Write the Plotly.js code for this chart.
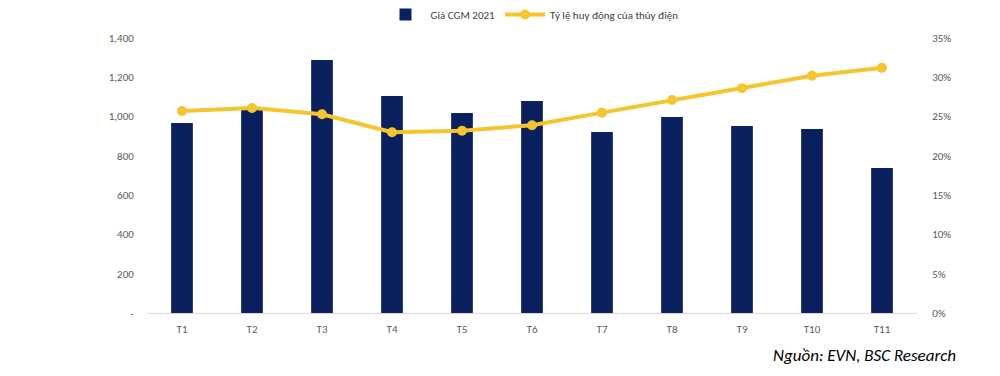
<!DOCTYPE html>
<html><head><meta charset="utf-8">
<script src="https://cdn.plot.ly/plotly-3.0.1.min.js"></script>
<style>body{margin:0;background:#fff}#c{width:1000px;height:376px}</style>
</head><body><div id="c"></div>
<script>
const months = ["T1","T2","T3","T4","T5","T6","T7","T8","T9","T10","T11"];
const cgmPrice = [967, 1033, 1288, 1105, 1018, 1079, 921, 998, 952, 937, 738];
const hydroShare = [25.7, 26.1, 25.3, 23.0, 23.2, 23.9, 25.5, 27.1, 28.6, 30.2, 31.2];
const leftTicks = [0, 200, 400, 600, 800, 1000, 1200, 1400];
const leftTickText = ["-", "200", "400", "600", "800", "1,000", "1,200", "1,400"];
const rightTicks = [0, 5, 10, 15, 20, 25, 30, 35];
const rightTickText = ["0%", "5%", "10%", "15%", "20%", "25%", "30%", "35%"];

const fam = "Calibri, Carlito, Lato, 'Liberation Sans', Arial, sans-serif";
const tickFont = {family: fam, size: 11, color: "#595959"};

Plotly.newPlot("c", [
  {type: "bar", name: "Giá CGM 2021", x: months, y: cgmPrice, marker: {color: "#0b215f"}, width: 0.31},
  {type: "scatter", mode: "lines+markers", name: "Tỷ lệ huy động của thủy điện", x: months, y: hydroShare, yaxis: "y2",
   line: {color: "#f4c52f", width: 4}, marker: {color: "#f4c52f", size: 10}}
], {
  width: 1000, height: 376,
  margin: {l: 147, r: 83, t: 38, b: 63},
  paper_bgcolor: "#fff", plot_bgcolor: "#fff",
  showlegend: true,
  legend: {orientation: "h", x: 0.5, xanchor: "center", y: 1.0, yref: "container", yanchor: "top", font: {family: fam, size: 11, color: "#404040"}, itemwidth: 40},
  xaxis: {type: "category", range: [-0.5, 10.5], showline: true, linecolor: "#d9d9d9", linewidth: 1, ticks: "outside", ticklen: 6, tickcolor: "rgba(0,0,0,0)", tickfont: tickFont, showgrid: false, zeroline: false, automargin: false},
  yaxis: {range: [0, 1400], tickvals: leftTicks, ticktext: leftTickText, tickfont: tickFont, showgrid: false, zeroline: false, ticks: "outside", ticklen: 10, tickcolor: "rgba(0,0,0,0)", automargin: false},
  yaxis2: {range: [0, 35], overlaying: "y", side: "right", tickvals: rightTicks, ticktext: rightTickText, tickfont: tickFont, showgrid: false, zeroline: false, ticks: "outside", ticklen: 12, tickcolor: "rgba(0,0,0,0)", automargin: false},
  annotations: [{text: "<i>Nguồn: EVN, BSC Research</i>", xref: "paper", yref: "paper", x: 1.0, xanchor: "right", y: -0.153, yanchor: "middle", showarrow: false,
    xshift: 41, font: {family: fam, size: 17, color: "#000"}}]
}, {staticPlot: true});
</script></body></html>
